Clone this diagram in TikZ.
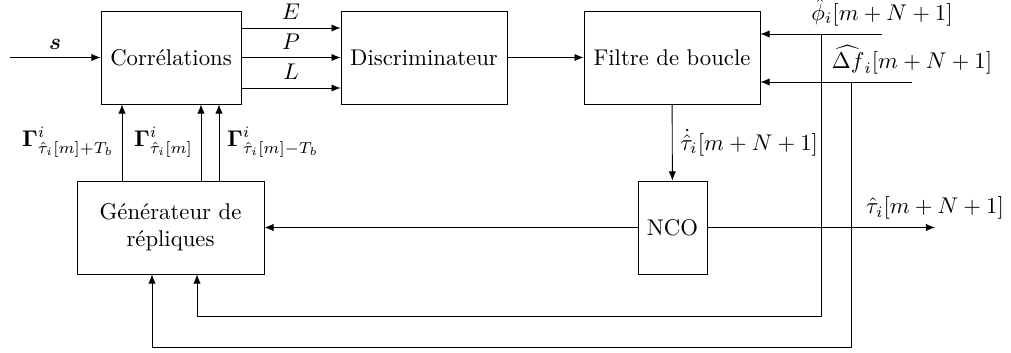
\documentclass[tikz,border=0pt]{standalone}
\usepackage{amsmath,bm}
\usetikzlibrary{arrows.meta}
\begin{document}
\begin{tikzpicture}[x=0.44pt,y=-0.44pt,
  blk/.style={draw, minimum height=40.9pt, inner sep=2pt, align=center},
  arr/.style={-{Latex[length=4pt,width=3.2pt]}}]
\useasboundingbox (0,0) rectangle (1011,353);
\node[blk, minimum width=61.6pt] (cor) at (171,57.5) {Corrélations};
\node[blk, minimum width=73pt] (disc) at (424,57.5) {Discriminateur};
\node[blk, minimum width=77.4pt] (filt) at (672,57.5) {Filtre de boucle};
\node[blk, minimum width=30.4pt] (nco) at (672.5,227.5) {NCO};
\node[blk, minimum width=82.3pt] (gen) at (170.5,227.5) {Générateur de\\répliques};
% input
\coordinate (sin) at (10,57.5);
\draw[arr] (sin) -- node[above]{$\bm{s}$} (cor);
% E P L
\draw[arr] (cor.east |- 0,28) -- node[above]{$E$} (disc.west |- 0,28);
\draw[arr] (cor) -- node[above]{$P$} (disc);
\draw[arr] (cor.east |- 0,88) -- node[above]{$L$} (disc.west |- 0,88);
\draw[arr] (disc) -- (filt);
% inputs to loop filter
\coordinate (phin) at (882,34);
\coordinate (dfin) at (912,82);
\draw[arr] (phin) node[above]{$\hat{\phi}_i[m+N+1]$} -- (filt.east |- phin);
\draw[arr] (dfin) node[above]{$\widehat{\Delta f}_i[m+N+1]$} -- (filt.east |- dfin);
% feedback branches
\coordinate (b1) at (821,34);
\coordinate (c1) at (821,316);
\coordinate (c1l) at (197,316);
\draw[arr] (b1) -- (c1) -- (c1l) -- (gen.south -| c1l);
\coordinate (b2) at (851,82);
\coordinate (c2) at (851,347);
\coordinate (c2l) at (152,347);
\draw[arr] (b2) -- (c2) -- (c2l) -- (gen.south -| c2l);
% filter to NCO
\draw[arr] (filt) -- node[right]{$\dot{\hat{\tau}}_i[m+N+1]$} (nco);
\draw[arr] (nco) -- (gen);
\coordinate (out) at (935,227.5);
\draw[arr] (nco) -- (out) node[above]{$\hat{\tau}_i[m+N+1]$};
% Gammas
\draw[arr] (gen.north -| 122,0) -- node[left]{$\mathbf{\Gamma}^i_{\hat{\tau}_i[m]+T_b}$} (cor.south -| 122,0);
\draw[arr] (gen.north -| 201,0) -- node[left]{$\mathbf{\Gamma}^i_{\hat{\tau}_i[m]}$} (cor.south -| 201,0);
\draw[arr] (gen.north -| 219,0) -- node[right]{$\mathbf{\Gamma}^i_{\hat{\tau}_i[m]-T_b}$} (cor.south -| 219,0);
\end{tikzpicture}
\end{document}
